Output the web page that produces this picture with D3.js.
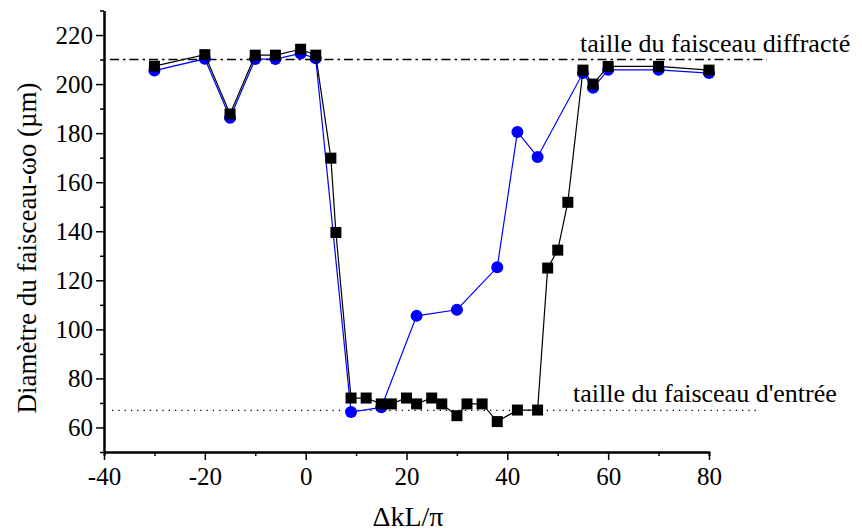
<!DOCTYPE html>
<html>
<head>
<meta charset="utf-8">
<script src="https://cdn.jsdelivr.net/npm/d3@7"></script>
</head>
<body style="margin:0">
<div class="canvas"></div>
<script>
// data
const squareX = [-30, -20, -15, -10, -6, -1, 2, 5, 6, 9, 12, 15, 17, 20, 22, 25, 27, 30, 32, 35, 38, 42, 46, 48, 50, 52, 55, 57, 60, 70, 80];
const squareY = [207.3, 212, 187.8, 211.8, 211.8, 214.2, 211.8, 169.8, 139.5, 72, 72, 69.6, 69.6, 72, 69.6, 72, 69.6, 64.8, 69.6, 69.6, 62.4, 67.1, 67.1, 125, 132.3, 151.8, 205.7, 200, 207.2, 207.2, 205.7];

const circleX = [-30, -20, -15, -10, -6, -1, 2, 9, 15, 22, 30, 38, 42, 46, 55, 57, 60, 70, 80];
const circleY = [205.5, 210.3, 186.3, 210.2, 210.2, 212.5, 210.5, 66.3, 68.2, 105.5, 108, 125.3, 180.5, 170.3, 204.5, 198.5, 205.8, 205.8, 204.5];

const xMajor = [-40, -20, 0, 20, 40, 60, 80];
const xMinor = [-30, -10, 10, 30, 50, 70];
const yMajor = [60, 80, 100, 120, 140, 160, 180, 200, 220];
const yMinor = [50, 70, 90, 110, 130, 150, 170, 190, 210, 230];

const diffracted = 210;
const entrance = 67;

const dimensions = { height: 531, width: 862 };
const serif = '"Liberation Serif"';

const svg = d3.select('.canvas')
    .append('svg')
    .attr('width', dimensions.width)
    .attr('height', dimensions.height);

const x = d3.scaleLinear().domain([-40, 80]).range([104, 709]);
const y = d3.scaleLinear().domain([50, 230]).range([452, 10.5]);

// reference lines
svg.append('line')
    .attr('x1', 110).attr('x2', 767)
    .attr('y1', y(diffracted)).attr('y2', y(diffracted))
    .attr('stroke', '#000')
    .attr('stroke-width', 1.4)
    .attr('stroke-dasharray', '9,4,2.5,4');

svg.append('line')
    .attr('x1', 112).attr('x2', 757)
    .attr('y1', y(entrance)).attr('y2', y(entrance))
    .attr('stroke', '#000')
    .attr('stroke-width', 1.3)
    .attr('stroke-dasharray', '1.3,5');

svg.append('text')
    .attr('x', 580).attr('y', 52)
    .style('font-family', serif)
    .style('font-size', '26px')
    .text('taille du faisceau diffracté');

svg.append('text')
    .attr('x', 573).attr('y', 402)
    .style('font-family', serif)
    .style('font-size', '26px')
    .text("taille du faisceau d'entrée");

// axes
const xAxis = svg.append('g').attr('transform', `translate(0, ${y(50)})`);
xAxis.call(d3.axisBottom(x).tickValues(xMinor).tickSize(4).tickFormat(''));
xAxis.call(g => g.append('g').call(d3.axisBottom(x).tickValues(xMajor).tickSize(8).tickSizeOuter(0).tickPadding(7).tickFormat(d => String(d))));

const yAxis = svg.append('g').attr('transform', `translate(${x(-40)}, 0)`);
yAxis.call(d3.axisLeft(y).tickValues(yMinor).tickSize(4).tickSizeOuter(0).tickFormat(''));
yAxis.call(g => g.append('g').call(d3.axisLeft(y).tickValues(yMajor).tickSize(8).tickSizeOuter(0).tickPadding(3).tickFormat(d => String(d))));

svg.selectAll('g').attr('font-family', null);
svg.selectAll('.domain').attr('stroke', '#000').attr('stroke-width', 2);
svg.selectAll('.tick line').attr('stroke', '#000').attr('stroke-width', 1.5);
svg.selectAll('.tick text')
    .style('font-family', serif)
    .style('font-size', '25px')
    .attr('fill', '#000');

svg.append('text')
    .attr('text-anchor', 'middle')
    .attr('transform', 'translate(36, 248) rotate(-90)')
    .style('font-family', serif)
    .style('font-size', '27px')
    .text('Diamètre du faisceau-ωo (µm)');

svg.append('text')
    .attr('text-anchor', 'middle')
    .attr('x', 408).attr('y', 526)
    .style('font-family', serif)
    .style('font-size', '28px')
    .text('ΔkL/π');

// series
const circles = circleX.map((v, i) => ({ x: v, y: circleY[i] }));
const squares = squareX.map((v, i) => ({ x: v, y: squareY[i] }));

const line = d3.line()
    .x(d => x(d.x))
    .y(d => y(d.y));

svg.append('path')
    .datum(circles)
    .attr('fill', 'none')
    .attr('stroke', '#0000ff')
    .attr('stroke-width', 1.2)
    .attr('d', line);

svg.selectAll('.circle')
    .data(circles)
    .enter()
    .append('circle')
    .attr('class', 'circle')
    .attr('cx', d => x(d.x))
    .attr('cy', d => y(d.y))
    .attr('r', 6)
    .attr('fill', '#0000ff');

svg.append('path')
    .datum(squares)
    .attr('fill', 'none')
    .attr('stroke', '#000')
    .attr('stroke-width', 1.2)
    .attr('d', line);

svg.selectAll('.square')
    .data(squares)
    .enter()
    .append('rect')
    .attr('class', 'square')
    .attr('x', d => x(d.x) - 5.5)
    .attr('y', d => y(d.y) - 5.5)
    .attr('width', 11)
    .attr('height', 11)
    .attr('fill', '#000');
</script>
</body>
</html>
